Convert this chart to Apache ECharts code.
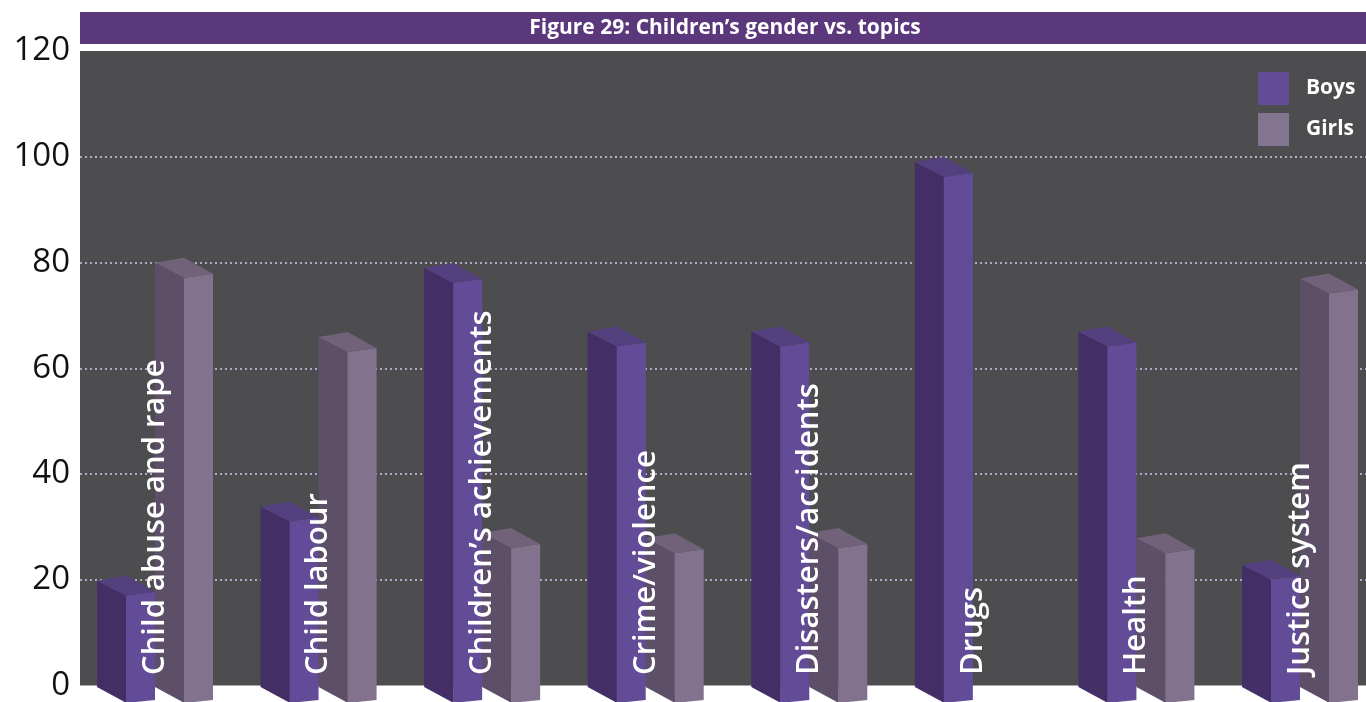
<!DOCTYPE html>
<html>
<head>
<meta charset="utf-8">
<title>Children’s gender vs. topics</title>
<script src="https://cdn.jsdelivr.net/npm/echarts@6/dist/echarts.min.js"></script>
<style>
  html, body { margin: 0; padding: 0; background: #ffffff; }
  #chart { width: 1366px; height: 702px; }
</style>
</head>
<body>
<div id="chart"></div>
<script>
// Topics covered, split by the child's gender
const categories = [
  'Child abuse and rape',
  'Child labour',
  'Children’s achievements',
  'Crime/violence',
  'Disasters/accidents',
  'Drugs',
  'Health',
  'Justice system'
];
const boys  = [21, 35, 80, 68, 68, 100, 68, 24];
const girls = [81, 67, 30, 29, 30, 0, 29, 78];
const yTicks = [0, 20, 40, 60, 80, 100, 120];

const FONT = '"Open Sans", "Noto Sans", sans-serif';

// Face colours for the extruded columns: front, side, top
const palette = {
  Boys:  { front: '#634c97', side: '#432f66', top: '#53407f' },
  Girls: { front: '#82728e', side: '#5d4f67', top: '#716279' }
};

// Draws one extruded column: the left side face, the front face and the top
function columnRenderer(name, shift) {
  const col = palette[name];
  return function (params, api) {
    const idx = api.value(0);
    const val = api.value(1);
    if (!val) return null;
    const top = api.coord([idx, val]);
    const base = api.coord([idx, 0]);
    const c = top[0], yv = top[1], y0 = base[1];
    const sl = c + shift;      // back/left edge
    const fl = sl + 29;        // front face left
    const fr = fl + 29;        // front face right
    return {
      type: 'group',
      children: [
        { type: 'polygon', shape: { points: [[sl, yv + 5], [fl + 0.5, yv + 20], [fl + 0.5, y0 + 16], [sl, y0]] },
          style: { fill: col.side } },
        { type: 'polygon', shape: { points: [[fl, yv + 20], [fr, yv + 16], [fr, y0 + 13], [fl, y0 + 16]] },
          style: { fill: col.front } },
        { type: 'polygon', shape: { points: [[sl, yv + 5], [fl, yv], [fr, yv + 16], [fl, yv + 20]] },
          style: { fill: col.top } }
      ]
    };
  };
}

const gridLine = '#b4a7c4';
const chart = echarts.init(document.getElementById('chart'), null, { renderer: 'canvas' });

chart.setOption({
  animation: false,
  backgroundColor: '#ffffff',
  graphic: [
    { type: 'rect', shape: { x: 80, y: 12, width: 1286, height: 32 }, style: { fill: '#5b377b' }, z: 0 },
    { type: 'text', x: 725, y: 28, z: 1,
      style: { text: 'Figure 29: Children’s gender vs. topics', fill: '#ffffff',
               font: 'bold 21px ' + FONT, textAlign: 'center', textVerticalAlign: 'middle' } }
  ],
  legend: {
    data: ['Boys', 'Girls'],
    orient: 'vertical',
    left: 1258,
    top: 72,
    padding: 0,
    itemWidth: 31,
    itemHeight: 33,
    itemGap: 8,
    icon: 'rect',
    textStyle: { color: '#ffffff', fontSize: 21, fontWeight: 'bold', fontFamily: FONT, padding: [0, 0, 0, 12] }
  },
  grid: [
    { left: 80, right: 0, top: 51, bottom: 15, show: true, backgroundColor: '#4d4d4f', borderWidth: 0 },
    { left: 155, right: 66, top: 51, bottom: 15 }
  ],
  xAxis: [
    { gridIndex: 0, type: 'value', show: false },
    {
      gridIndex: 1,
      type: 'category',
      data: categories,
      boundaryGap: false,
      z: 10,
      axisLine: { show: false },
      axisTick: { show: false },
      axisLabel: {
        inside: true,
        rotate: 90,
        interval: 0,
        margin: 12,
        color: '#ffffff',
        fontSize: 31,
        fontWeight: 600,
        fontFamily: FONT
      }
    }
  ],
  yAxis: [
    {
      gridIndex: 0,
      type: 'value',
      min: yTicks[0],
      max: yTicks[yTicks.length - 1],
      interval: yTicks[1] - yTicks[0],
      axisLine: { show: false },
      axisTick: { show: false },
      axisLabel: { color: '#111111', fontSize: 33, fontFamily: FONT, fontWeight: 'normal', margin: 10 },
      splitLine: {
        show: true,
        lineStyle: {
          color: ['rgba(0,0,0,0)', gridLine, gridLine, gridLine, gridLine, gridLine, 'rgba(0,0,0,0)'],
          type: [2, 3],
          width: 2
        }
      }
    },
    { gridIndex: 1, type: 'value', min: yTicks[0], max: yTicks[yTicks.length - 1], show: false }
  ],
  series: [
    {
      name: 'Boys',
      type: 'custom',
      xAxisIndex: 1,
      yAxisIndex: 1,
      itemStyle: { color: '#644b96' },
      renderItem: columnRenderer('Boys', -58),
      data: boys.map((v, i) => [i, v]),
      z: 2
    },
    {
      name: 'Girls',
      type: 'custom',
      xAxisIndex: 1,
      yAxisIndex: 1,
      itemStyle: { color: '#837490' },
      renderItem: columnRenderer('Girls', 0),
      data: girls.map((v, i) => [i, v]),
      z: 2
    }
  ]
});
</script>
</body>
</html>
